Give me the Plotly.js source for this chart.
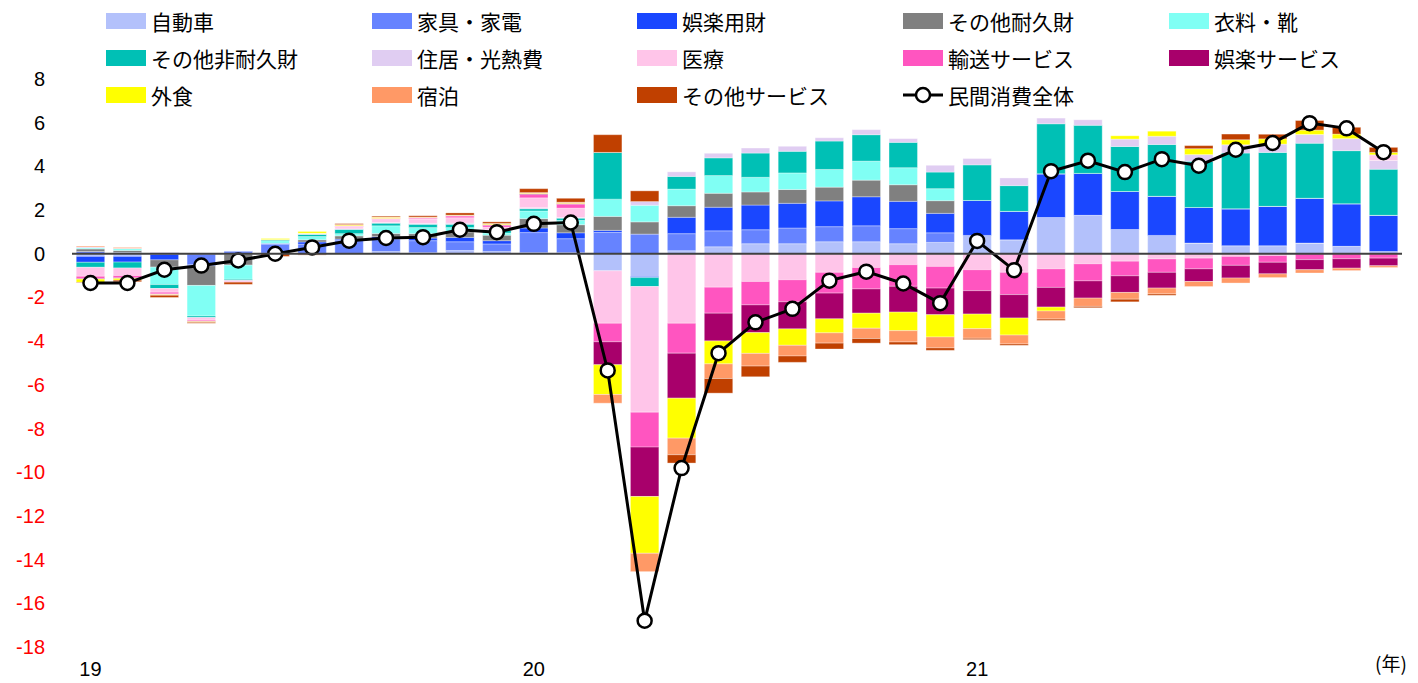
<!DOCTYPE html>
<html><head><meta charset="utf-8">
<script src="https://cdn.plot.ly/plotly-3.0.1.min.js"></script>
<style>html,body{margin:0;padding:0;background:#fff}#chart{width:1418px;height:683px}</style>
</head><body><div id="chart"></div>
<script>
// months Jan 2019 .. Dec 2021
const months = [
 '2019-01','2019-02','2019-03','2019-04','2019-05','2019-06','2019-07','2019-08','2019-09','2019-10','2019-11','2019-12',
 '2020-01','2020-02','2020-03','2020-04','2020-05','2020-06','2020-07','2020-08','2020-09','2020-10','2020-11','2020-12',
 '2021-01','2021-02','2021-03','2021-04','2021-05','2021-06','2021-07','2021-08','2021-09','2021-10','2021-11','2021-12'];
const yearTickMonths = ['2019-01','2020-01','2021-01'];
const yearTickLabels = ['19','20','21'];
const yTickVals = [8,6,4,2,0,-2,-4,-6,-8,-10,-12,-14,-16,-18];

const seriesNames = ['自動車','家具・家電','娯楽用財','その他耐久財','衣料・靴','その他非耐久財','住居・光熱費','医療','輸送サービス','娯楽サービス','外食','宿泊','その他サービス'];
const totalName = '民間消費全体';

const car       = [-0.12,-0.12,-0.03,0,-0.02,0.03,0.02,0.02,0.1,0.05,0.15,0.1, 0.05,0.05,-0.78,-1.04,0.14,0.32,0.46,0.46,0.55,0.55,0.46,0.52, 0.84,0.64,1.66,1.76,1.11,0.84,0.49,0.37,0.37,0.49,0.34,0.1];
const furniture = [0.1,0.06,0.05,-0.5,0.1,0.4,0.42,0.6,0.58,0.55,0.4,0.35, 0.92,0.64,0.98,0.9,0.78,0.73,0.64,0.72,0.69,0.73,0.69,0.44, 0,0,0,0,0,0,0,0,0,0,0,0];
const recGoods  = [-0.27,-0.26,-0.25,-0.05,0.03,0.05,0.1,0.05,0.1,0.12,0.2,0.15, 0.21,0.27,0.09,-0.05,0.75,1.08,1.13,1.13,1.18,1.33,1.25,0.89, 1.6,1.3,2.0,1.92,1.74,1.79,1.63,1.69,1.8,2.05,1.95,1.66];
const otherDur  = [0.12,0.09,-0.33,-0.9,-0.5,0,0.1,0.15,0.15,0.2,0.25,0.25, 0.43,0.37,0.64,0.56,0.53,0.64,0.6,0.63,0.63,0.76,0.76,0.58, 0,0,0,0,0,0,0,0,0,0,0,0];
const clothing  = [0.05,0.08,-0.8,-1.4,-0.65,0.12,0.15,0.1,0.35,0.28,0.2,0.1, 0.35,0.2,0.79,0.76,0.76,0.81,0.67,0.76,0.81,0.87,0.78,0.55, 0,0,0,0,0,0,0,0,0,0,0,0];
const otherND   = [-0.23,-0.27,-0.18,-0.07,-0.05,0.05,0.1,0.2,0.12,0.15,0.15,0.12, 0.1,0.1,2.14,-0.41,0.58,0.81,1.11,0.99,1.3,1.21,1.16,0.76, 1.63,1.18,2.29,2.2,2.06,2.37,2.11,2.55,2.47,2.52,2.43,2.11];
const housing   = [0.04,0.02,0.02,0,0.02,0,0.02,0.02,0.03,0.04,0.05,0.03, 0.05,0.03,0,0.17,0.21,0.21,0.23,0.23,0.15,0.23,0.17,0.31, 0.29,0.35,0.26,0.26,0.34,0.38,0.31,0.38,0.38,0.4,0.55,0.4];
const medical   = [-0.41,-0.35,-0.17,-0.12,-0.05,0,0.03,0.1,0.15,0.2,0.25,0.12, 0.45,0.43,-2.4,-5.75,-3.18,-1.53,-1.27,-1.19,-0.85,-0.63,-0.5,-0.58, -0.73,-0.85,-0.69,-0.46,-0.34,-0.24,-0.2,-0.12,-0.08,0,0,0.26];
const transport = [-0.1,-0.1,-0.08,-0.05,-0.03,0,0,0.03,0.04,0.05,0.08,0.09, 0.15,0.18,-0.85,-1.6,-1.37,-1.19,-1.07,-1.01,-0.95,-0.98,-0.99,-0.99, -0.96,-1.02,-0.85,-0.78,-0.67,-0.61,-0.49,-0.41,-0.31,-0.27,-0.23,-0.2];
const recSvc    = [-0.03,-0.03,-0.02,-0.02,0,0,0,0,0,0,0.02,0.02, 0.04,0.03,-1.05,-2.26,-2.06,-1.27,-1.27,-1.24,-1.18,-1.11,-1.18,-1.22, -1.07,-1.07,-0.9,-0.79,-0.76,-0.72,-0.58,-0.58,-0.53,-0.46,-0.43,-0.35];
const dining    = [-0.15,-0.08,-0.02,-0.03,0,0.06,0.08,0.04,0.05,0.02,0.02,0.04, 0.03,0.04,-1.36,-2.6,-1.83,-1.05,-0.95,-0.75,-0.64,-0.69,-0.85,-1.02, -0.67,-0.78,-0.18,0,0.15,0.23,0.27,0.23,0.24,0.2,0.21,0.11];
const lodging   = [0.04,0.04,-0.02,0,0,0,-0.03,0.03,0.02,0.02,0,0.02, 0.02,0.02,-0.4,-0.84,-0.76,-0.67,-0.58,-0.49,-0.47,-0.47,-0.52,-0.5, -0.44,-0.41,-0.37,-0.38,-0.31,-0.27,-0.23,-0.23,-0.17,-0.15,-0.11,-0.08];
const otherSvc  = [-0.02,-0.07,-0.1,-0.04,-0.1,-0.12,-0.03,0.04,0.04,0.06,0.1,0.07, 0.18,0.18,0.81,0.49,-0.38,-0.67,-0.49,-0.29,-0.27,-0.21,-0.12,-0.11, -0.06,-0.06,-0.06,-0.06,-0.12,-0.06,0.14,0.26,0.21,0.44,0.31,0.23];
const total     = [-1.34,-1.34,-0.73,-0.54,-0.31,0.0,0.29,0.6,0.72,0.76,1.1,0.99, 1.37,1.43,-5.34,-16.8,-9.81,-4.55,-3.14,-2.52,-1.23,-0.82,-1.36,-2.26, 0.59,-0.75,3.78,4.26,3.74,4.33,4.03,4.76,5.07,5.98,5.74,4.65];

const seriesValues = [car,furniture,recGoods,otherDur,clothing,otherND,housing,medical,transport,recSvc,dining,lodging,otherSvc];
const seriesColors = ['#b3c1fb','#6683ff','#1a47ff','#808080','#80fff4','#00c0b5','#e0cdf2','#ffc5e9','#ff55c0','#a8006b','#ffff00','#ff9966','#c04000'];

const W = 1418, H = 683;
const M = {l:72, r:16, t:79, b:36};
const PW = W - M.l - M.r, PH = H - M.t - M.b;
const px = x => (x - M.l) / PW;
const py = y => 1 - (y - M.t) / PH;

const traces = seriesNames.map((name,i) => ({
  type:'bar', name:name, x:months, y:seriesValues[i],
  marker:{color:seriesColors[i], line:{color:'rgba(255,255,255,0.55)', width:0.6}},
  width:0.77, showlegend:false, hoverinfo:'name+y'
}));
traces.push({
  type:'scatter', mode:'lines+markers', name:totalName, x:months, y:total,
  line:{color:'#000', width:3},
  marker:{symbol:'circle', size:14, color:'#fff', line:{color:'#000', width:2.5}},
  showlegend:false
});

const jpFont = '"Noto Sans CJK JP", "Noto Sans", sans-serif';
const numFont = '"Liberation Sans", Arial, sans-serif';

// custom legend (3 rows x 5 columns)
const colX = [106, 372, 637, 903, 1169];
const rowY = [21, 58, 95];
const shapes = [];
const annotations = [];
const legendItems = seriesNames.concat([totalName]);
legendItems.forEach((name, k) => {
  const r = Math.floor(k/5), c = k%5;
  const x0 = colX[c], yc = rowY[r];
  if (k < seriesNames.length) {
    shapes.push({type:'rect', xref:'paper', yref:'paper', x0:px(x0), x1:px(x0+40), y0:py(yc+8), y1:py(yc-8),
      fillcolor:seriesColors[k], line:{width:0}});
  } else {
    shapes.push({type:'line', xref:'paper', yref:'paper', x0:px(x0), x1:px(x0+40), y0:py(yc), y1:py(yc), line:{color:'#000', width:3}});
    shapes.push({type:'circle', xref:'paper', yref:'paper', x0:px(x0+13), x1:px(x0+27), y0:py(yc+7), y1:py(yc-7),
      fillcolor:'#fff', line:{color:'#000', width:2.5}});
  }
  annotations.push({xref:'paper', yref:'paper', x:px(x0+43), y:py(yc), xanchor:'left', yanchor:'middle',
    text:name, showarrow:false, font:{family:jpFont, size:21, color:'#000'}});
});
annotations.push({xref:'paper', yref:'paper', x:px(1391), y:py(662), xanchor:'center', yanchor:'middle',
  text:'(年)', showarrow:false, font:{family:jpFont, size:19, color:'#000'}});
// zero reference line
shapes.push({type:'line', xref:'paper', yref:'y', x0:0, x1:1, y0:0, y1:0, layer:'above', line:{color:'#404040', width:2}});

const layout = {
  width:W, height:H, margin:M, paper_bgcolor:'#fff', plot_bgcolor:'#fff',
  barmode:'relative', bargap:0.23, showlegend:false,
  font:{family:numFont, size:20, color:'#000'},
  xaxis:{type:'category', range:[-0.5, 35.5], showgrid:false, zeroline:false, showline:false,
    tickmode:'array', tickvals:yearTickMonths, ticktext:yearTickLabels, ticks:'', ticklabelstandoff:8,
    tickfont:{family:numFont, size:20, color:'#000'}},
  yaxis:{range:[-18, 8], showgrid:false, zeroline:false, showline:false,
    tickmode:'array', tickvals:yTickVals,
    ticktext:yTickVals.map(v => v < 0 ? '<span style="color:#ff0000">' + v + '</span>' : String(v)),
    ticks:'', ticklabelstandoff:26, tickfont:{family:numFont, size:20, color:'#000'}},
  shapes:shapes, annotations:annotations
};
Plotly.newPlot('chart', traces, layout, {displayModeBar:false, staticPlot:true});
</script></body></html>
